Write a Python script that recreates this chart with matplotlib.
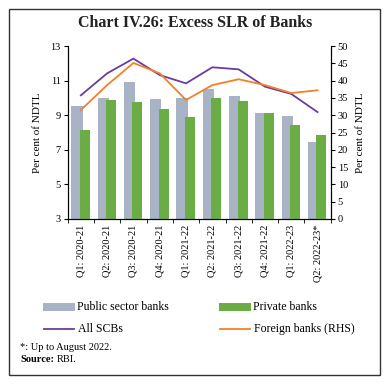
import matplotlib
matplotlib.use("Agg")
import matplotlib.pyplot as plt
from matplotlib.patches import Rectangle
from matplotlib.lines import Line2D
import numpy as np

categories = ["Q1: 2020-21", "Q2: 2020-21", "Q3: 2020-21", "Q4: 2020-21",
              "Q1: 2021-22", "Q2: 2021-22", "Q3: 2021-22", "Q4: 2021-22",
              "Q1: 2022-23", "Q2: 2022-23*"]
public_sector = [9.53, 10.0, 10.92, 9.94, 10.0, 10.51, 10.11, 9.13, 8.95, 7.45]
private_banks = [8.14, 9.88, 9.76, 9.36, 8.9, 10.0, 9.82, 9.13, 8.43, 7.86]
all_scbs = [10.15, 11.42, 12.27, 11.32, 10.84, 11.77, 11.65, 10.65, 10.23, 9.18]
foreign_rhs = [31.5, 38.7, 45.1, 42.1, 34.4, 38.7, 40.4, 38.7, 36.4, 37.2]
left_ticks = [3, 5, 7, 9, 11, 13]
right_ticks = [0, 5, 10, 15, 20, 25, 30, 35, 40, 45, 50]

C_PUB = "#A9B3C6"
C_PRI = "#6AAD44"
C_ALL = "#6A3D9C"
C_FOR = "#F47F2A"

plt.rcParams['font.family'] = ['Liberation Serif', 'DejaVu Serif']
W, H = 390, 384
fig = plt.figure(figsize=(W/100, H/100), dpi=100)

# border
fig.patches.append(Rectangle((9/W, 9/H), (380-9)/W, (375-9)/H, transform=fig.transFigure,
                             fill=False, edgecolor="#333333", linewidth=1.0))

fig.text(0.5, 1-23/H, "Chart IV.26: Excess SLR of Banks", ha="center", va="center",
         fontsize=11.5, fontweight="bold", color="#222222")

ax = fig.add_axes([67.7/W, 1-219/H, (330.7-67.7)/W, (219-46)/H])
x = np.arange(len(categories))
ax.bar(x - 0.15, public_sector, width=0.43, color=C_PUB, zorder=2)
ax.bar(x + 0.15, private_banks, width=0.38, color=C_PRI, zorder=3)
ax.plot(x, all_scbs, color=C_ALL, linewidth=1.3, zorder=4)
ax.set_ylim(3, 13)
ax.set_yticks(left_ticks)
ax.set_xlim(-0.5, 9.5)
ax.set_xticks(x)
ax.set_xticklabels(categories, rotation=90, fontsize=7.5)
ax.set_xticks(np.arange(-0.5, 10, 1), minor=True)
ax.tick_params(axis='x', which='major', length=0, pad=4)
ax.tick_params(axis='x', which='minor', length=3, direction='out')
ax.tick_params(axis='y', labelsize=7.5, length=3, direction='out', pad=2)
ax.spines['top'].set_visible(False)
ax.set_ylabel("Per cent of NDTL", fontsize=8, labelpad=6)

ax2 = ax.twinx()
ax2.plot(x, foreign_rhs, color=C_FOR, linewidth=1.3, zorder=4)
ax2.set_ylim(0, 50)
ax2.set_yticks(right_ticks)
ax2.tick_params(axis='y', labelsize=7.5, length=3, direction='out', pad=2)
ax2.spines['top'].set_visible(False)
ax2.set_ylabel("Per cent of NDTL", fontsize=8, labelpad=6)
for a in (ax, ax2):
    for s in a.spines.values():
        s.set_linewidth(0.8)

# legend (manual)
def patch(x0, y0, color, label):
    fig.patches.append(Rectangle((x0/W, 1-(y0+4)/H), 32/W, 8/H, transform=fig.transFigure,
                                 facecolor=color, edgecolor='none'))
    fig.text((x0+34)/W, 1-y0/H, label, ha="left", va="center", fontsize=8.5)

def line(x0, y0, color, label):
    fig.add_artist(Line2D([x0/W, (x0+30)/W], [1-y0/H, 1-y0/H], transform=fig.transFigure,
                          color=color, linewidth=1.3))
    fig.text((x0+34)/W, 1-y0/H, label, ha="left", va="center", fontsize=8.5)

patch(43, 307, C_PUB, "Public sector banks")
patch(219, 307, C_PRI, "Private banks")
line(44, 329, C_ALL, "All SCBs")
line(220, 329, C_FOR, "Foreign banks (RHS)")

fig.text(20/W, 1-347/H, "*: Up to August 2022.", ha="left", va="center", fontsize=7.5)
fig.text(20/W, 1-359/H, "Source:", ha="left", va="center", fontsize=7.5, fontweight="bold")
fig.text(57/W, 1-359/H, "RBI.", ha="left", va="center", fontsize=7.5)

fig.savefig("out.png", dpi=100)
